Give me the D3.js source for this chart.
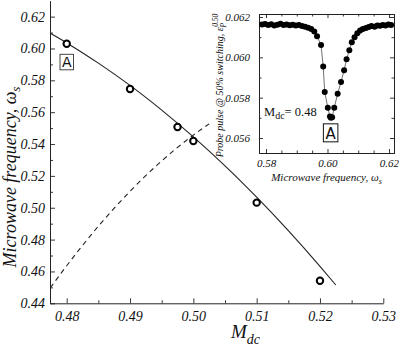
<!DOCTYPE html>
<html><head><meta charset="utf-8">
<script src="https://cdn.jsdelivr.net/npm/d3@7"></script>
<style>body{margin:0;background:#fff} text{fill:#111}</style>
</head><body>
<svg id="c" width="399" height="349"></svg>
<script>
// ---- main plot data ----
const mdcPoints = [0.48, 0.49, 0.4975, 0.50, 0.51, 0.52];
const omegaPoints = [0.603, 0.5746, 0.5507, 0.5419, 0.5032, 0.4542];
const solidX = [0.4774, 0.480, 0.485, 0.490, 0.495, 0.500, 0.505, 0.510, 0.515, 0.520, 0.5225];
const solidY = [0.6095, 0.6035, 0.5908, 0.5768, 0.5613, 0.5445, 0.5263, 0.5066, 0.4856, 0.4632, 0.4515];
const dashX = [0.4774, 0.480, 0.485, 0.490, 0.495, 0.500, 0.5025];
const dashY = [0.4496, 0.4636, 0.4884, 0.5103, 0.5294, 0.5456, 0.5527];
const mainXTicks = [0.48, 0.49, 0.50, 0.51, 0.52, 0.53];
const mainXMinor = [0.485, 0.495, 0.505, 0.515, 0.525];
const mainYTicks = [0.44, 0.46, 0.48, 0.50, 0.52, 0.54, 0.56, 0.58, 0.60, 0.62];
const mainYMinor = [0.45, 0.47, 0.49, 0.51, 0.53, 0.55, 0.57, 0.59, 0.61];
// ---- inset data ----
const insetW = [0.5787,0.5797,0.5807,0.5817,0.5827,0.5837,0.5847,0.5857,0.5867,0.5877,0.5887,0.5897,0.5907,0.5917,0.5927,0.5937,0.5947,0.5957,
  0.5966,0.5979,0.5986,0.5991,0.6001,0.6008,0.6011,0.6015,
  0.6022,0.6033,0.6044,0.6054,0.6062,0.6071,0.6079,0.6088,0.6097,0.6106,0.6115,0.6125,0.6134,0.6143,0.6153,0.6162,0.6171,0.6180,0.6189,0.6198,0.6207];
const insetE = [0.06163,0.06165,0.06160,0.06164,0.06158,0.06162,0.06166,0.06160,0.06163,0.06159,0.06162,0.06158,0.06160,0.06155,0.06152,0.06147,0.06140,0.06128,
  0.06105,0.06061,0.05954,0.05828,0.05750,0.05706,0.05700,0.05703,
  0.05750,0.05820,0.05878,0.05936,0.05990,0.06035,0.06075,0.06100,0.06120,0.06133,0.06140,0.06146,0.06150,0.06155,0.06152,0.06158,0.06157,0.06160,0.06158,0.06163,0.06160];
const insetXTicks = [0.58, 0.60, 0.62];
const insetXMinor = [0.585, 0.59, 0.595, 0.605, 0.61, 0.615];
const insetYTicks = [0.056, 0.058, 0.060, 0.062];
const insetYMinor = [0.057, 0.059, 0.061];

const svg = d3.select("#c");
const serif = "'Liberation Serif','Times New Roman',serif";

// ---- main scales ----
const x = d3.scaleLinear().domain([0.47736, 0.53]).range([50, 383.3]);
const y = d3.scaleLinear().domain([0.44, 0.63]).range([303.3, 0.7]);

function styleAxis(g, size) {
  g.select(".domain").attr("stroke", "#222").attr("stroke-width", 1);
  g.selectAll(".tick line").attr("stroke", "#222").attr("stroke-width", 0.9);
  g.selectAll("text").attr("font-family", serif).attr("font-style", "italic")
    .attr("font-size", size).attr("fill", "#111");
}

const gx = svg.append("g").attr("transform", "translate(0,303.3)")
  .call(d3.axisBottom(x).tickValues(mainXTicks).tickFormat(d3.format(".2f")).tickSize(-5).tickSizeOuter(0).tickPadding(8));
styleAxis(gx, 14);
const gxm = svg.append("g").attr("transform", "translate(0,303.3)")
  .call(d3.axisBottom(x).tickValues(mainXMinor).tickFormat("").tickSize(-3).tickSizeOuter(0));
styleAxis(gxm, 14); gxm.select(".domain").remove();

const gy = svg.append("g").attr("transform", "translate(50,0)")
  .call(d3.axisLeft(y).tickValues(mainYTicks).tickFormat(d3.format(".2f")).tickSize(-5).tickSizeOuter(0).tickPadding(5));
styleAxis(gy, 14);
const gym = svg.append("g").attr("transform", "translate(50,0)")
  .call(d3.axisLeft(y).tickValues(mainYMinor).tickFormat("").tickSize(-3).tickSizeOuter(0));
styleAxis(gym, 14); gym.select(".domain").remove();

// curves
const solid = solidX.map((d, i) => [d, solidY[i]]);
const dash = dashX.map((d, i) => [d, dashY[i]]);
const line = d3.line().x(d => x(d[0])).y(d => y(d[1])).curve(d3.curveMonotoneX);
svg.append("path").attr("d", line(solid)).attr("fill", "none").attr("stroke", "#222").attr("stroke-width", 1.1);
svg.append("path").attr("d", line(dash)).attr("fill", "none").attr("stroke", "#222").attr("stroke-width", 1.1)
  .attr("stroke-dasharray", "5,4");

svg.append("g").selectAll("circle").data(mdcPoints).join("circle")
  .attr("cx", d => x(d)).attr("cy", (d, i) => y(omegaPoints[i])).attr("r", 3.2)
  .attr("fill", "#fff").attr("stroke", "#000").attr("stroke-width", 2);

// main "A" label
const ax = x(mdcPoints[0]), ay = y(omegaPoints[0]);
svg.append("rect").attr("x", ax - 6.7).attr("y", ay + 10.6).attr("width", 13.5).attr("height", 15.5)
  .attr("fill", "#fff").attr("stroke", "#333").attr("stroke-width", 0.9);
svg.append("text").attr("x", ax).attr("y", ay + 23.6).attr("text-anchor", "middle")
  .attr("font-family", "'DejaVu Sans',sans-serif").attr("font-size", 14).text("A");

// main axis labels
const yl = svg.append("text").attr("transform", "translate(16,177) rotate(-90)").attr("text-anchor", "middle")
  .attr("font-family", serif).attr("font-style", "italic").attr("font-size", 18);
yl.append("tspan").text("Microwave frequency, ω");
yl.append("tspan").attr("font-size", 13).attr("dy", 4).text("s");

const xl = svg.append("text").attr("x", 231).attr("y", 338)
  .attr("font-family", serif).attr("font-style", "italic").attr("font-size", 19);
xl.append("tspan").text("M");
xl.append("tspan").attr("font-size", 14).attr("dy", 6).text("dc");

// ---- inset ----
const L = 259, R = 394, T = 14, B = 153;
const ix = d3.scaleLinear().domain([0.57772, 0.62163]).range([L, R]);
const iy = d3.scaleLinear().domain([0.055256, 0.062149]).range([B, T]);

const ib = svg.append("g").attr("transform", `translate(0,${B})`)
  .call(d3.axisBottom(ix).tickValues(insetXTicks).tickFormat(d3.format(".2f")).tickSize(-4).tickSizeOuter(0).tickPadding(6));
styleAxis(ib, 11);
const ibm = svg.append("g").attr("transform", `translate(0,${B})`)
  .call(d3.axisBottom(ix).tickValues(insetXMinor).tickFormat("").tickSize(-2.5).tickSizeOuter(0));
styleAxis(ibm, 11);
const it = svg.append("g").attr("transform", `translate(0,${T})`)
  .call(d3.axisTop(ix).tickValues(insetXTicks).tickFormat("").tickSize(-4).tickSizeOuter(0));
styleAxis(it, 11);
const itm = svg.append("g").attr("transform", `translate(0,${T})`)
  .call(d3.axisTop(ix).tickValues(insetXMinor).tickFormat("").tickSize(-2.5).tickSizeOuter(0));
styleAxis(itm, 11);
const il = svg.append("g").attr("transform", `translate(${L},0)`)
  .call(d3.axisLeft(iy).tickValues(insetYTicks).tickFormat(d3.format(".3f")).tickSize(-4).tickSizeOuter(0).tickPadding(9));
styleAxis(il, 11);
const ilm = svg.append("g").attr("transform", `translate(${L},0)`)
  .call(d3.axisLeft(iy).tickValues(insetYMinor).tickFormat("").tickSize(-2.5).tickSizeOuter(0));
styleAxis(ilm, 11);
const ir = svg.append("g").attr("transform", `translate(${R},0)`)
  .call(d3.axisRight(iy).tickValues(insetYTicks).tickFormat("").tickSize(-4).tickSizeOuter(0));
styleAxis(ir, 11);
const irm = svg.append("g").attr("transform", `translate(${R},0)`)
  .call(d3.axisRight(iy).tickValues(insetYMinor).tickFormat("").tickSize(-2.5).tickSizeOuter(0));
styleAxis(irm, 11);

const ipts = insetW.map((d, i) => [d, insetE[i]]);
svg.append("path").attr("d", d3.line().x(d => ix(d[0])).y(d => iy(d[1]))(ipts))
  .attr("fill", "none").attr("stroke", "#333").attr("stroke-width", 0.7);
svg.append("g").selectAll("circle").data(ipts).join("circle")
  .attr("cx", d => ix(d[0])).attr("cy", d => iy(d[1])).attr("r", 3).attr("fill", "#000");

// inset annotations
const mi = d3.minIndex(insetE);
const mx = ix(insetW[mi]), my = iy(insetE[mi]);
svg.append("rect").attr("x", mx - 7.5).attr("y", my + 6).attr("width", 14.5).attr("height", 18)
  .attr("fill", "#fff").attr("stroke", "#111").attr("stroke-width", 1);
svg.append("text").attr("x", mx - 0.2).attr("y", my + 21).attr("text-anchor", "middle")
  .attr("font-family", "'DejaVu Sans',sans-serif").attr("font-size", 15).text("A");

const mt = svg.append("text").attr("x", 264).attr("y", 116).attr("font-family", serif).attr("font-size", 12.5);
mt.append("tspan").text("M");
mt.append("tspan").attr("font-size", 10).attr("dy", 3).text("dc");
mt.append("tspan").attr("dy", -3).text("= 0.48");

const ixl = svg.append("text").attr("x", (L + R) / 2).attr("y", 181).attr("text-anchor", "middle")
  .attr("font-family", serif).attr("font-style", "italic").attr("font-size", 11);
ixl.append("tspan").text("Microwave frequency, ω");
ixl.append("tspan").attr("font-size", 8).attr("dy", 3).text("s");

const iyl = svg.append("text").attr("transform", `translate(223,${(T + B) / 2 + 2}) rotate(-90)`).attr("text-anchor", "middle")
  .attr("font-family", serif).attr("font-style", "italic").attr("font-size", 10);
iyl.append("tspan").text("Probe pulse @ 50% switching, ε");
iyl.append("tspan").attr("font-size", 7.5).attr("dy", 2.5).text("P");
iyl.append("tspan").attr("font-size", 7.5).attr("dx", -4).attr("dy", -8).text("0.50");
</script>
</body></html>
